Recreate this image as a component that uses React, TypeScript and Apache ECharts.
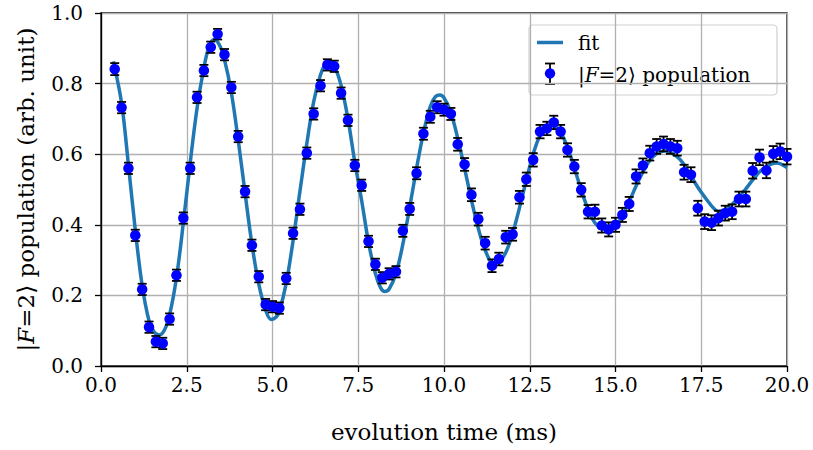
import React, { useEffect, useRef } from "react";
import * as echarts from "echarts";

// measured data: evolution time (ms)
const times = [
  0.4, 0.6, 0.8, 1.0, 1.2, 1.4, 1.6, 1.8, 2.0, 2.2, 2.4, 2.6, 2.8, 3.0, 3.2, 3.4, 3.6, 3.8, 4.0, 4.2,
  4.4, 4.6, 4.8, 5.0, 5.2, 5.4, 5.6, 5.8, 6.0, 6.2, 6.4, 6.6, 6.8, 7.0, 7.2, 7.4, 7.6, 7.8, 8.0, 8.2,
  8.4, 8.6, 8.8, 9.0, 9.2, 9.4, 9.6, 9.8, 10.0, 10.2, 10.4, 10.6, 10.8, 11.0, 11.2, 11.4, 11.6, 11.8, 12.0, 12.2,
  12.4, 12.6, 12.8, 13.0, 13.2, 13.4, 13.6, 13.8, 14.0, 14.2, 14.4, 14.6, 14.8, 15.0, 15.2, 15.4, 15.6, 15.8, 16.0, 16.2,
  16.4, 16.6, 16.8, 17.0, 17.2, 17.4, 17.6, 17.8, 18.0, 18.2, 18.4, 18.6, 18.8, 19.0, 19.2, 19.4, 19.6, 19.8, 20.0,
];

// |F=2> population
const population = [
  0.841, 0.732, 0.560, 0.370, 0.217, 0.110, 0.069, 0.064, 0.133, 0.257, 0.419, 0.560, 0.761, 0.837, 0.903, 0.940, 0.882, 0.789, 0.650, 0.494,
  0.342, 0.253, 0.174, 0.168, 0.164, 0.248, 0.376, 0.444, 0.603, 0.714, 0.794, 0.853, 0.849, 0.773, 0.696, 0.568, 0.512, 0.353, 0.288, 0.250,
  0.261, 0.267, 0.383, 0.445, 0.546, 0.658, 0.706, 0.733, 0.726, 0.714, 0.628, 0.571, 0.485, 0.416, 0.348, 0.284, 0.303, 0.365, 0.373, 0.478,
  0.529, 0.584, 0.664, 0.673, 0.690, 0.664, 0.612, 0.565, 0.499, 0.437, 0.437, 0.398, 0.387, 0.400, 0.428, 0.459, 0.537, 0.568, 0.603, 0.622,
  0.629, 0.622, 0.617, 0.549, 0.542, 0.447, 0.409, 0.406, 0.419, 0.433, 0.437, 0.473, 0.473, 0.553, 0.591, 0.554, 0.601, 0.608, 0.593,
];

// error bar half-lengths
const errors = [
  0.017, 0.016, 0.016, 0.016, 0.016, 0.016, 0.016, 0.016, 0.016, 0.016, 0.016, 0.016, 0.016, 0.016, 0.016, 0.015, 0.016, 0.016, 0.016, 0.016,
  0.016, 0.016, 0.016, 0.016, 0.016, 0.016, 0.016, 0.016, 0.016, 0.016, 0.016, 0.016, 0.016, 0.016, 0.016, 0.016, 0.016, 0.016, 0.016, 0.016,
  0.016, 0.016, 0.017, 0.017, 0.017, 0.017, 0.017, 0.017, 0.017, 0.017, 0.018, 0.018, 0.018, 0.018, 0.018, 0.018, 0.018, 0.018, 0.018, 0.018,
  0.019, 0.019, 0.019, 0.019, 0.019, 0.019, 0.019, 0.019, 0.019, 0.019, 0.020, 0.020, 0.020, 0.020, 0.020, 0.020, 0.020, 0.020, 0.021, 0.021,
  0.021, 0.021, 0.021, 0.021, 0.021, 0.021, 0.021, 0.021, 0.021, 0.021, 0.021, 0.021, 0.021, 0.022, 0.022, 0.022, 0.022, 0.022, 0.022,
];

// fitted curve
const fitTime = [
  0.36, 0.6, 0.8, 1.0, 1.2, 1.4, 1.55, 1.7, 1.85, 2.0, 2.2, 2.4, 2.6, 2.8, 3.0, 3.15, 3.3, 3.45, 3.6, 3.8,
  4.0, 4.2, 4.4, 4.6, 4.8, 4.96, 5.1, 5.2, 5.4, 5.6, 5.8, 6.0, 6.2, 6.4, 6.55, 6.65, 6.8, 7.0, 7.2, 7.4,
  7.6, 7.8, 8.0, 8.15, 8.27, 8.4, 8.6, 8.8, 9.0, 9.2, 9.4, 9.6, 9.75, 9.88, 10.0, 10.2, 10.4, 10.6, 10.8, 11.0,
  11.2, 11.45, 11.7, 11.9, 12.1, 12.3, 12.5, 12.7, 12.9, 13.12, 13.3, 13.5, 13.7, 13.9, 14.1, 14.3, 14.5, 14.83, 15.0, 15.2,
  15.4, 15.6, 15.8, 16.0, 16.2, 16.45, 16.7, 16.9, 17.1, 17.3, 17.5, 17.7, 17.85, 18.0, 18.2, 18.4, 18.6, 18.8, 19.0, 19.2,
  19.4, 19.7, 20.0,
];
const fitValue = [
  0.863, 0.745, 0.570, 0.385, 0.228, 0.128, 0.096, 0.088, 0.102, 0.145, 0.250, 0.405, 0.575, 0.730, 0.845, 0.905, 0.925, 0.910, 0.868, 0.775,
  0.640, 0.490, 0.345, 0.232, 0.158, 0.132, 0.138, 0.155, 0.235, 0.355, 0.495, 0.630, 0.748, 0.825, 0.858, 0.863, 0.850, 0.795, 0.700, 0.577,
  0.468, 0.350, 0.262, 0.222, 0.211, 0.218, 0.262, 0.345, 0.450, 0.560, 0.660, 0.735, 0.763, 0.768, 0.760, 0.718, 0.645, 0.560, 0.470, 0.390,
  0.328, 0.290, 0.305, 0.345, 0.410, 0.487, 0.565, 0.630, 0.670, 0.683, 0.675, 0.643, 0.592, 0.530, 0.470, 0.422, 0.395, 0.386, 0.395, 0.425,
  0.466, 0.510, 0.550, 0.582, 0.602, 0.610, 0.600, 0.583, 0.555, 0.522, 0.492, 0.466, 0.448, 0.438, 0.443, 0.458, 0.478, 0.502, 0.527, 0.550,
  0.566, 0.575, 0.562,
];

const xTicks = [0, 2.5, 5, 7.5, 10, 12.5, 15, 17.5, 20];
const yTicks = [0, 0.2, 0.4, 0.6, 0.8, 1.0];

const FONT = "'DejaVu Serif', 'DejaVu Sans', serif";
const FIT_COLOR = "#1f77b4";
const DOT_COLOR = "#0000ff";

export default function App() {
  const ref = useRef<HTMLDivElement>(null);

  useEffect(() => {
    if (!ref.current) return;
    const chart = echarts.init(ref.current, null, { renderer: "svg" });

    const pointData = times.map((t, i) => [t, population[i], errors[i]]);
    const fitData = fitTime.map((t, i) => [t, fitValue[i]]);

    const option: any = {
      animation: false,
      backgroundColor: "#ffffff",
      grid: {
        left: 101,
        right: 26,
        top: 13,
        bottom: 84,
        show: true,
        borderColor: "#000",
        borderWidth: 1.3,
        backgroundColor: "transparent",
      },
      xAxis: {
        type: "value",
        min: xTicks[0],
        max: xTicks[xTicks.length - 1],
        interval: 2.5,
        name: "evolution time (ms)",
        nameLocation: "middle",
        nameGap: 54,
        nameTextStyle: { fontFamily: FONT, fontSize: 23, color: "#000" },
        axisLine: { show: true, lineStyle: { color: "#000", width: 1.3 } },
        axisTick: { show: true, inside: false, length: 6, lineStyle: { color: "#000", width: 1.3 } },
        axisLabel: {
          fontFamily: FONT,
          fontSize: 20,
          color: "#000",
          margin: 9,
          formatter: (v: number) => v.toFixed(1),
        },
        splitLine: { show: true, lineStyle: { color: "#b0b0b0", width: 1.3 } },
      },
      yAxis: {
        type: "value",
        min: yTicks[0],
        max: yTicks[yTicks.length - 1],
        interval: 0.2,
        name: "{n||}{i|F}{n|=2⟩ population (arb. unit)}",
        nameLocation: "middle",
        nameGap: 64,
        nameTextStyle: {
          fontFamily: FONT,
          fontSize: 23,
          color: "#000",
          rich: {
            n: { fontFamily: FONT, fontSize: 23, color: "#000" },
            i: { fontFamily: FONT, fontSize: 23, color: "#000", fontStyle: "italic" },
          },
        },
        axisLine: { show: true, lineStyle: { color: "#000", width: 1.3 } },
        axisTick: { show: true, inside: false, length: 6, lineStyle: { color: "#000", width: 1.3 } },
        axisLabel: {
          fontFamily: FONT,
          fontSize: 20,
          color: "#000",
          margin: 18,
          formatter: (v: number) => v.toFixed(1),
        },
        splitLine: { show: true, lineStyle: { color: "#b0b0b0", width: 1.3 } },
      },
      series: [
        {
          name: "fit",
          type: "line",
          data: fitData,
          smooth: 0.35,
          showSymbol: false,
          symbol: "none",
          lineStyle: { color: FIT_COLOR, width: 3.5 },
          z: 2,
        },
        {
          name: "errorbars",
          type: "custom",
          data: pointData,
          z: 3,
          renderItem: (params: any, api: any) => {
            const x = api.value(0);
            const y = api.value(1);
            const e = api.value(2);
            const top = api.coord([x, y + e]);
            const bot = api.coord([x, y - e]);
            const hw = 4.5;
            const style = { stroke: "#000", lineWidth: 1.8 };
            return {
              type: "group",
              children: [
                { type: "line", shape: { x1: top[0], y1: top[1], x2: bot[0], y2: bot[1] }, style },
                { type: "line", shape: { x1: top[0] - hw, y1: top[1], x2: top[0] + hw, y2: top[1] }, style },
                { type: "line", shape: { x1: bot[0] - hw, y1: bot[1], x2: bot[0] + hw, y2: bot[1] }, style },
              ],
            };
          },
        },
        {
          name: "|F=2⟩ population",
          type: "scatter",
          data: pointData.map((d) => [d[0], d[1]]),
          symbol: "circle",
          symbolSize: 10.5,
          itemStyle: { color: DOT_COLOR, opacity: 1 },
          z: 4,
        },
      ],
      graphic: [
        {
          type: "group",
          z: 100,
          children: [
            {
              type: "rect",
              shape: { x: 529, y: 25, width: 248, height: 70, r: 4 },
              style: { fill: "rgba(255,255,255,0.8)", stroke: "#d0d0d0", lineWidth: 1.2 },
            },
            {
              type: "line",
              shape: { x1: 537, y1: 42.5, x2: 563, y2: 42.5 },
              style: { stroke: FIT_COLOR, lineWidth: 3.5 },
            },
            {
              type: "text",
              x: 578,
              y: 43,
              style: { text: "fit", fontFamily: FONT, fontSize: 20, fill: "#000", verticalAlign: "middle", align: "left" },
            },
            { type: "line", shape: { x1: 550, y1: 63.5, x2: 550, y2: 84 }, style: { stroke: "#000", lineWidth: 1.8 } },
            { type: "line", shape: { x1: 545, y1: 63.5, x2: 555, y2: 63.5 }, style: { stroke: "#000", lineWidth: 1.8 } },
            { type: "line", shape: { x1: 545, y1: 84, x2: 555, y2: 84 }, style: { stroke: "#000", lineWidth: 1.8 } },
            { type: "circle", shape: { cx: 550, cy: 73.5, r: 5.2 }, style: { fill: DOT_COLOR } },
            {
              type: "text",
              x: 578,
              y: 75,
              style: {
                text: "{n||}{i|F}{n|=2⟩ population}",
                fontFamily: FONT,
                fontSize: 20,
                fill: "#000",
                verticalAlign: "middle",
                align: "left",
                rich: {
                  n: { fontFamily: FONT, fontSize: 20, fill: "#000" },
                  i: { fontFamily: FONT, fontSize: 20, fill: "#000", fontStyle: "italic" },
                },
              },
            },
          ],
        },
      ],
    };

    chart.setOption(option);
    return () => {
      chart.dispose();
    };
  }, []);

  return (
    <div
      ref={ref}
      style={{ position: "fixed", left: 0, top: 0, width: 813, height: 450, background: "#fff" }}
    />
  );
}
